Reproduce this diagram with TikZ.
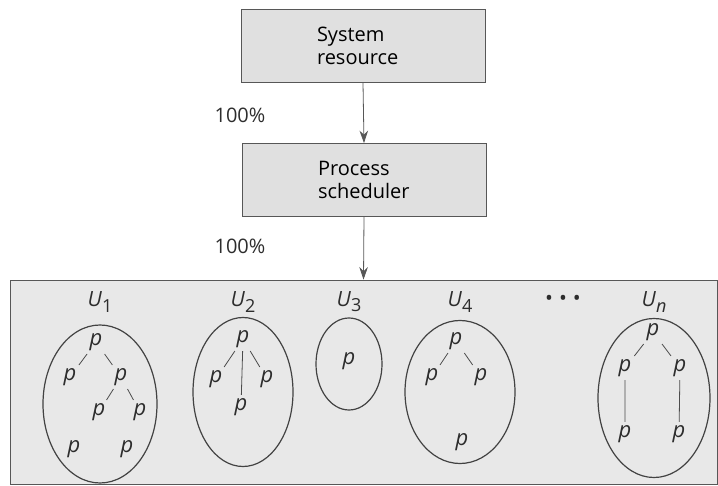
\documentclass[tikz,border=0pt]{standalone}
\usepackage{fontspec}
\setmainfont{Open Sans}
\usetikzlibrary{arrows.meta,positioning,shapes.geometric}
\definecolor{paper}{RGB}{224,224,224}
\definecolor{panel}{RGB}{232,232,232}
\definecolor{ink}{RGB}{45,45,45}
\newcommand{\usr}[1]{\textit{U}\raisebox{-0.45ex}{\small #1}}
\tikzset{
  >={Stealth[length=2.2mm,width=1.5mm]},
  box/.style={draw=ink!80,fill=paper,thin,minimum width=122pt,minimum height=36.5pt,
    text width=46pt,align=left,font=\fontsize{10}{11.5}\selectfont},
  pct/.style={font=\fontsize{10}{12}\selectfont,text=ink},
  flow/.style={->,draw=ink!80,thin},
  tray/.style={draw=ink!80,fill=panel,thin,minimum width=353.5pt,minimum height=102pt,inner sep=0pt},
  grp/.style={ellipse,draw=ink!90,semithick,inner sep=0pt},
  tag/.style={font=\fontsize{10.5}{12}\selectfont,text=ink},
  proc/.style={font=\fontsize{11}{12}\selectfont\itshape,text=ink,inner sep=1.5pt},
  link/.style={draw=ink!85,thin},
}
\begin{document}
\begin{tikzpicture}[x=0.5pt,y=-0.5pt]
  \useasboundingbox (0,0) rectangle (718,486);
  % top chain
  \node[box] (res) at (363,46) {System\\resource};
  \node[box] (sched) at (364,180) {Process\\scheduler};
  \node[tray] (users) at (363.5,382) {};
  \draw[flow] (res.south) -- (sched.north);
  \draw[flow] (sched.south) -- (users.north);
  \node[pct] (pa) at (240,115) {100\%};
  \node[pct] (pb) at (240,246) {100\%};
  % user groups
  \foreach \n/\x/\y/\w/\h in {1/100/404/114/158,2/243/392/100/149,3/349/364/66/92,4/460/392/110/143,\textit{n}/654/398/112/159}{
    \node[grp,minimum width=\w*0.5pt,minimum height=\h*0.5pt] (g\x) at (\x,\y) {};
    \node[tag] (l\x) at (\x,302) {\usr{\n}};
  }
  \node[tag] (dots) at (563,300) {\textbullet\hspace{3pt}\textbullet\hspace{3pt}\textbullet};
  % processes
  \node[proc] (a1) at (96,342) {p};
  \node[proc] (a2) at (70,377) {p};
  \node[proc] (a3) at (121,377) {p};
  \node[proc] (a4) at (99,412) {p};
  \node[proc] (a5) at (140,412) {p};
  \node[proc] (a6) at (74,449) {p};
  \node[proc] (a7) at (127,449) {p};
  \draw[link] (a1) -- (a2) (a1) -- (a3) (a3) -- (a4) (a3) -- (a5);
  \node[proc] (b1) at (243,339) {p};
  \node[proc] (b2) at (216,379) {p};
  \node[proc] (b3) at (267,379) {p};
  \node[proc] (b4) at (241,407) {p};
  \draw[link] (b1) -- (b2) (b1) -- (b3) (b1) -- (b4);
  \node[proc] (c1) at (349,361) {p};
  \node[proc] (d1) at (456,341) {p};
  \node[proc] (d2) at (432,377) {p};
  \node[proc] (d3) at (481,377) {p};
  \node[proc] (d4) at (462,442) {p};
  \draw[link] (d1) -- (d2) (d1) -- (d3);
  \node[proc] (e1) at (653,332) {p};
  \node[proc] (e2) at (625,368) {p};
  \node[proc] (e3) at (680,368) {p};
  \node[proc] (e4) at (625,434) {p};
  \node[proc] (e5) at (679,434) {p};
  \draw[link] (e1) -- (e2) (e1) -- (e3) (e2) -- (e4) (e3) -- (e5);
\end{tikzpicture}
\end{document}
